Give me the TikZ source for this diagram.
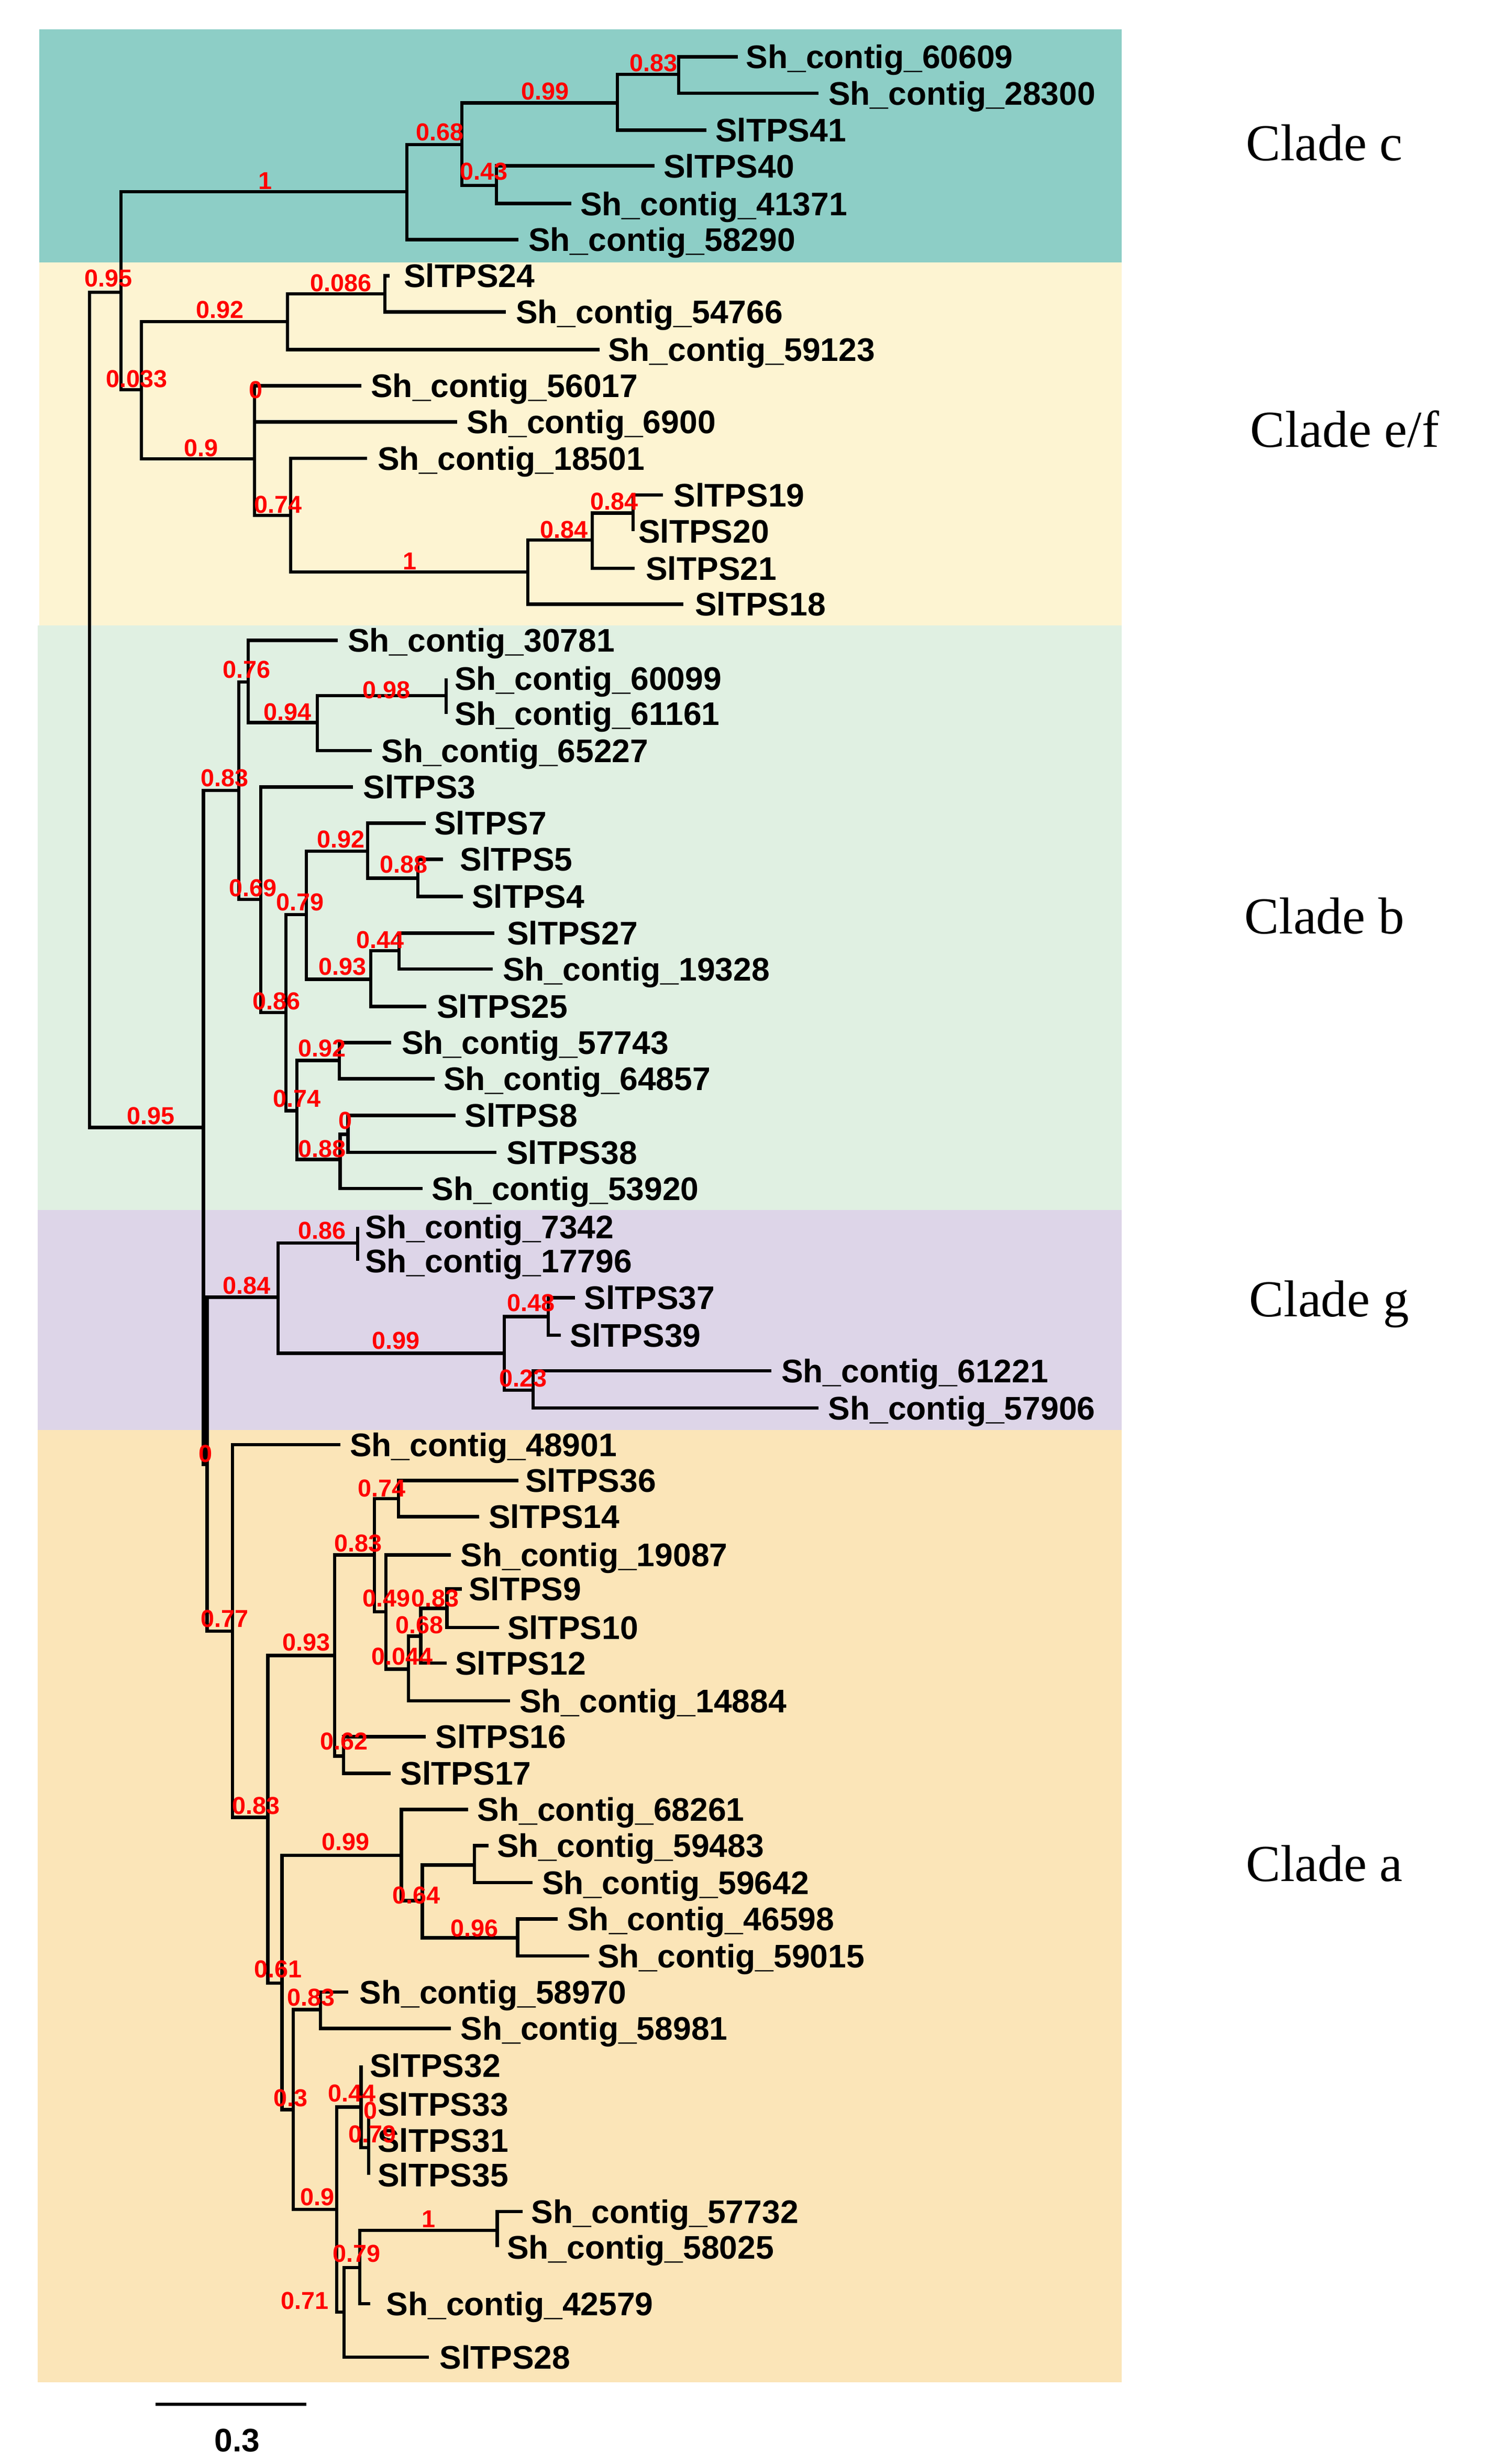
\documentclass[tikz,border=0pt]{standalone}
\usepackage{fontspec}
\setmainfont{Liberation Serif}
\newfontfamily\labfont{Liberation Sans}
\begin{document}
\begin{tikzpicture}[x=0.5pt,y=-0.5pt,
  tx/.style={anchor=base west,inner sep=0pt,yshift=-3.7pt,font=\labfont\bfseries\fontsize{10.4}{12}\selectfont},
  bs/.style={inner sep=0pt,text=red,font=\labfont\bfseries\fontsize{7.8}{9}\selectfont},
  br/.style={line width=1.1pt},
  clade/.style={inner sep=0pt,font=\fontsize{16.5}{19}\selectfont}]
\useasboundingbox (0,0) rectangle (951,1568);
\fill[fill={rgb,255:red,141;green,206;blue,198}] (25,18.6) rectangle (714,167);
\fill[fill={rgb,255:red,253;green,244;blue,210}] (25,167) rectangle (714,398);
\fill[fill={rgb,255:red,224;green,240;blue,226}] (24,398) rectangle (714,770);
\fill[fill={rgb,255:red,221;green,213;blue,232}] (24,770) rectangle (714,910);
\fill[fill={rgb,255:red,251;green,229;blue,184}] (24,910) rectangle (714,1516);
\newcommand\tlf[5]{\coordinate (#1) at (#2,#3); \node[tx] (#1-t) at (#4,#3) {#5};}
\newcommand\tin[3]{\coordinate (#1) at (#2,#3);}
\newcommand\tbr[2]{\draw[br] (#1) |- (#2);}
\newcommand\tbs[3]{\node[bs] at (#1,#2) {#3};}
% ---------- clade c and e/f
\tin{R}{57}{451}
\tin{A}{77}{186}
\tin{B}{129.5}{717.5}
\tin{C1}{259}{122}
\tin{n068}{294}{92}
\tin{n099}{393}{65.6}
\tin{n083}{432}{47.4}
\tin{n043}{316}{118}
\tlf{l58290}{330}{152.5}{336}{Sh\_contig\_58290}
\tlf{l41}{449.5}{82.9}{455}{SlTPS41}
\tlf{l60609}{469.6}{36.2}{474.5}{Sh\_contig\_60609}
\tlf{l28300}{521}{59.4}{527}{Sh\_contig\_28300}
\tlf{l40}{416.5}{105.6}{422}{SlTPS40}
\tlf{l41371}{363.8}{129.6}{369}{Sh\_contig\_41371}
\tin{EF}{90}{248}
\tin{n092}{183}{204.6}
\tin{n0086}{245}{187}
\tin{n09}{162}{292}
\tin{n074}{185}{328}
\tin{n1}{336}{364}
\tin{n084a}{377}{343.6}
\tin{n084b}{403}{326.5}
\tlf{l59123}{381.7}{222.5}{386.6}{Sh\_contig\_59123}
\tlf{l24}{248}{175.5}{256.7}{SlTPS24}
\tlf{l54766}{322}{198.5}{328}{Sh\_contig\_54766}
\tlf{l56017}{230}{245.4}{235.7}{Sh\_contig\_56017}
\tlf{l6900}{291}{268.4}{296.8}{Sh\_contig\_6900}
\tlf{l18501}{233.5}{291.6}{240}{Sh\_contig\_18501}
\tlf{l18}{435}{384.4}{442}{SlTPS18}
\tlf{l21}{404}{361.7}{410.7}{SlTPS21}
\tlf{l19}{422}{315}{428.5}{SlTPS19}
\tlf{l20}{403}{338}{406}{SlTPS20}
\tbr{R}{A}\tbr{R}{B}
\tbr{A}{C1}\tbr{A}{EF}
\tbr{C1}{n068}\tbr{C1}{l58290}
\tbr{n068}{n099}\tbr{n068}{n043}
\tbr{n099}{n083}\tbr{n099}{l41}
\tbr{n083}{l60609}\tbr{n083}{l28300}
\tbr{n043}{l40}\tbr{n043}{l41371}
\tbr{EF}{n092}\tbr{EF}{n09}
\tbr{n092}{n0086}\tbr{n092}{l59123}
\tbr{n0086}{l24}\tbr{n0086}{l54766}
\tbr{n09}{l56017}\tbr{n09}{l6900}\tbr{n09}{n074}
\tbr{n074}{l18501}\tbr{n074}{n1}
\tbr{n1}{n084a}\tbr{n1}{l18}
\tbr{n084a}{n084b}\tbr{n084a}{l21}
\tbr{n084b}{l19}\tbr{n084b}{l20}
% ---------- clade b
\tin{Z0}{131.8}{932}
\tin{b083}{152}{503}
\tin{b076}{158}{434}
\tin{b094}{202}{459.8}
\tin{b098}{284}{442.7}
\tin{b069}{166}{572.3}
\tin{b086}{182}{644.3}
\tin{b079}{195}{582}
\tin{b092}{234}{541.7}
\tin{b088}{266}{558.8}
\tin{b093}{236}{623.1}
\tin{b044}{254}{605}
\tin{b074}{189}{706.8}
\tin{b092b}{216}{674.9}
\tin{b088b}{216.5}{737.9}
\tin{b0}{221.4}{721.8}
\tlf{l30781}{215}{407.5}{221}{Sh\_contig\_30781}
\tlf{l60099}{284}{431.8}{289}{Sh\_contig\_60099}
\tlf{l61161}{284}{454.2}{289}{Sh\_contig\_61161}
\tlf{l65227}{236.6}{477.7}{242.4}{Sh\_contig\_65227}
\tlf{l3}{224.5}{500.9}{230.8}{SlTPS3}
\tlf{l7}{271}{523.9}{276}{SlTPS7}
\tlf{l5}{282}{546.8}{292.4}{SlTPS5}
\tlf{l4}{294.6}{570.5}{300}{SlTPS4}
\tlf{l27}{314.7}{593.8}{322.3}{SlTPS27}
\tlf{l19328}{313.8}{616.7}{319.6}{Sh\_contig\_19328}
\tlf{l25}{271.4}{640.5}{277.7}{SlTPS25}
\tlf{l57743}{249}{663.4}{255.3}{Sh\_contig\_57743}
\tlf{l64857}{276.8}{686.4}{282}{Sh\_contig\_64857}
\tlf{l8}{290}{709.8}{295.5}{SlTPS8}
\tlf{l38}{316}{733.3}{322}{SlTPS38}
\tlf{l53920}{269}{756.3}{274.5}{Sh\_contig\_53920}
\draw[br] (B) -- ++(0,-214.5) (B) -- (Z0 -| B) -- (Z0);
\tbr{B}{b083}
\tbr{b083}{b076}\tbr{b083}{b069}
\tbr{b076}{l30781}\tbr{b076}{b094}
\tbr{b094}{b098}\tbr{b094}{l65227}
\tbr{b098}{l60099}\tbr{b098}{l61161}
\tbr{b069}{l3}\tbr{b069}{b086}
\tbr{b086}{b079}\tbr{b086}{b074}
\tbr{b079}{b092}\tbr{b079}{b093}
\tbr{b092}{l7}\tbr{b092}{b088}
\tbr{b088}{l5}\tbr{b088}{l4}
\tbr{b093}{b044}\tbr{b093}{l25}
\tbr{b044}{l27}\tbr{b044}{l19328}
\tbr{b074}{b092b}\tbr{b074}{b088b}
\tbr{b092b}{l57743}\tbr{b092b}{l64857}
\tbr{b088b}{b0}\tbr{b088b}{l53920}
\tbr{b0}{l8}\tbr{b0}{l38}
% ---------- clade g
\tin{g084}{177}{825.4}
\tin{g086}{227.7}{791}
\tin{g099}{321}{861.1}
\tin{g048}{349}{837.9}
\tin{g023}{339.3}{884.6}
\tin{a077}{148}{1038}
\tlf{l7342}{227.7}{780.7}{232}{Sh\_contig\_7342}
\tlf{l17796}{227.7}{802.4}{232}{Sh\_contig\_17796}
\tlf{l37}{366}{825.9}{371.4}{SlTPS37}
\tlf{l39}{357}{849.6}{362.5}{SlTPS39}
\tlf{l61221}{491}{872.3}{497}{Sh\_contig\_61221}
\tlf{l57906}{521}{896}{526.8}{Sh\_contig\_57906}
\tbr{Z0}{g084}\tbr{Z0}{a077}
\tbr{g084}{g086}\tbr{g084}{g099}
\tbr{g086}{l7342}\tbr{g086}{l17796}
\tbr{g099}{g048}\tbr{g099}{g023}
\tbr{g048}{l37}\tbr{g048}{l39}
\tbr{g023}{l61221}\tbr{g023}{l57906}
% ---------- clade a
\tin{a083}{170.5}{1156.5}
\tin{a093}{213}{1053.4}
\tin{a083b}{238.3}{989.4}
\tin{a074}{253.6}{953.7}
\tin{a049}{245.6}{1025.6}
\tin{a044}{260}{1062.2}
\tin{a068}{267.8}{1041.1}
\tin{a083c}{284.4}{1023.4}
\tin{a062}{218.7}{1117.5}
\tin{a061}{179.4}{1262}
\tin{a099}{255.5}{1180.6}
\tin{a064}{268.9}{1209.4}
\tin{a0x}{302}{1186.8}
\tin{a096}{329.4}{1233.2}
\tin{a03}{186.6}{1342.5}
\tin{a083d}{204}{1278.8}
\tin{a09}{214.3}{1406}
\tin{a044b}{229.8}{1340.8}
\tin{a079b}{234.7}{1366.7}
\tin{a071}{219}{1471.3}
\tin{a079}{229}{1443}
\tin{a1}{316.5}{1419.3}
\tlf{l48901}{216.5}{919.3}{222.3}{Sh\_contig\_48901}
\tlf{l36}{330}{942.2}{334}{SlTPS36}
\tlf{l14}{305}{965.2}{310.7}{SlTPS14}
\tlf{l19087}{287}{989.4}{292.8}{Sh\_contig\_19087}
\tlf{l9}{293.9}{1011.1}{298}{SlTPS9}
\tlf{l10}{317.8}{1035.6}{322.6}{SlTPS10}
\tlf{l12}{284.4}{1058.3}{289.3}{SlTPS12}
\tlf{l14884}{324.5}{1082.3}{330.3}{Sh\_contig\_14884}
\tlf{l16}{271}{1105.2}{276.8}{SlTPS16}
\tlf{l17}{248.6}{1128.4}{254.5}{SlTPS17}
\tlf{l68261}{298}{1151.4}{303.5}{Sh\_contig\_68261}
\tlf{l59483}{311}{1174.5}{316}{Sh\_contig\_59483}
\tlf{l59642}{339}{1198}{344.6}{Sh\_contig\_59642}
\tlf{l46598}{355}{1221.2}{360.7}{Sh\_contig\_46598}
\tlf{l59015}{375}{1244.6}{380}{Sh\_contig\_59015}
\tlf{l58970}{221.8}{1267.6}{228.5}{Sh\_contig\_58970}
\tlf{l58981}{287}{1290.8}{292.8}{Sh\_contig\_58981}
\tlf{l32}{229.8}{1314.4}{235}{SlTPS32}
\tlf{l33}{234.7}{1346.7}{240}{}
\node[tx] at (240,1339) {SlTPS33};
\node[tx] at (240,1362) {SlTPS31};
\tlf{l35}{234.7}{1384}{240}{SlTPS35}
\tlf{l57732}{332.6}{1407.3}{337.9}{Sh\_contig\_57732}
\tlf{l58025}{316.5}{1430}{322.3}{Sh\_contig\_58025}
\tlf{l42579}{235.7}{1466}{245.5}{Sh\_contig\_42579}
\tlf{l28}{273}{1500}{279.4}{SlTPS28}
\tbr{a077}{l48901}\tbr{a077}{a083}
\tbr{a083}{a093}\tbr{a083}{a061}
\tbr{a093}{a083b}\tbr{a093}{a062}
\tbr{a083b}{a074}\tbr{a083b}{a049}
\tbr{a074}{l36}\tbr{a074}{l14}
\tbr{a049}{l19087}\tbr{a049}{a044}
\tbr{a044}{a068}\tbr{a044}{l14884}
\tbr{a068}{a083c}\tbr{a068}{l12}
\tbr{a083c}{l9}\tbr{a083c}{l10}
\tbr{a062}{l16}\tbr{a062}{l17}
\tbr{a061}{a099}\tbr{a061}{a03}
\tbr{a099}{l68261}\tbr{a099}{a064}
\tbr{a064}{a0x}\tbr{a064}{a096}
\tbr{a0x}{l59483}\tbr{a0x}{l59642}
\tbr{a096}{l46598}\tbr{a096}{l59015}
\tbr{a03}{a083d}\tbr{a03}{a09}
\tbr{a083d}{l58970}\tbr{a083d}{l58981}
\tbr{a09}{a044b}\tbr{a09}{a071}
\tbr{a044b}{l32}\tbr{a044b}{a079b}
\tbr{a079b}{l33}\tbr{a079b}{l35}
\tbr{a071}{a079}\tbr{a071}{l28}
\tbr{a079}{a1}\tbr{a079}{l42579}
\tbr{a1}{l57732}\tbr{a1}{l58025}
% ---------- support values
\tbs{416}{40}{0.83}\tbs{347}{58}{0.99}\tbs{280}{84}{0.68}\tbs{308}{109}{0.43}
\tbs{169}{115}{1}\tbs{69}{177}{0.95}\tbs{217}{180}{0.086}\tbs{140}{197}{0.92}
\tbs{87}{241}{0.033}\tbs{163}{248}{0}\tbs{128}{285}{0.9}\tbs{177}{321}{0.74}
\tbs{391}{319}{0.84}\tbs{359}{337}{0.84}\tbs{261}{357}{1}
\tbs{157}{426}{0.76}\tbs{246}{439}{0.98}\tbs{183}{453}{0.94}\tbs{143}{495}{0.83}
\tbs{217}{534}{0.92}\tbs{257}{550}{0.88}\tbs{161}{565}{0.69}\tbs{191}{574}{0.79}
\tbs{242}{598}{0.44}\tbs{218}{615}{0.93}\tbs{176}{637}{0.86}\tbs{205}{667}{0.92}
\tbs{189}{699}{0.74}\tbs{220}{713}{0}\tbs{205}{731}{0.88}\tbs{96}{710}{0.95}
\tbs{205}{783}{0.86}\tbs{157}{818}{0.84}\tbs{338}{829}{0.48}\tbs{252}{853}{0.99}
\tbs{333}{877}{0.23}
\tbs{131}{925}{0}\tbs{143}{1030}{0.77}\tbs{243}{947}{0.74}\tbs{228}{982}{0.83}
\tbs{246}{1017}{0.49}\tbs{277}{1017}{0.83}\tbs{267}{1034}{0.68}\tbs{256}{1054}{0.044}
\tbs{195}{1045}{0.93}\tbs{219}{1108}{0.62}\tbs{163}{1149}{0.83}\tbs{220}{1172}{0.99}
\tbs{265}{1206}{0.64}\tbs{302}{1227}{0.96}\tbs{177}{1253}{0.61}\tbs{198}{1271}{0.83}
\tbs{185}{1335}{0.3}\tbs{224}{1332}{0.44}\tbs{236}{1343}{0}\tbs{237}{1358}{0.79}
\tbs{202}{1398}{0.9}\tbs{273}{1412}{1}\tbs{227}{1434}{0.79}\tbs{194}{1464}{0.71}
% ---------- clade names
\node[clade] (cc) at (843,91) {Clade c};
\node[clade] (cef) at (856,273) {Clade e/f};
\node[clade] (cb) at (843,583) {Clade b};
\node[clade] (cg) at (846,830) {Clade g};
\node[clade] (ca) at (843,1186) {Clade a};
% ---------- scale bar
\coordinate (s1) at (99,1530);
\coordinate (s2) at (195,1530);
\draw[br] (s1) -- (s2);
\node[inner sep=0pt,font=\labfont\bfseries\fontsize{10.4}{12}\selectfont] (sl) at (151,1553) {0.3};
\end{tikzpicture}
\end{document}
